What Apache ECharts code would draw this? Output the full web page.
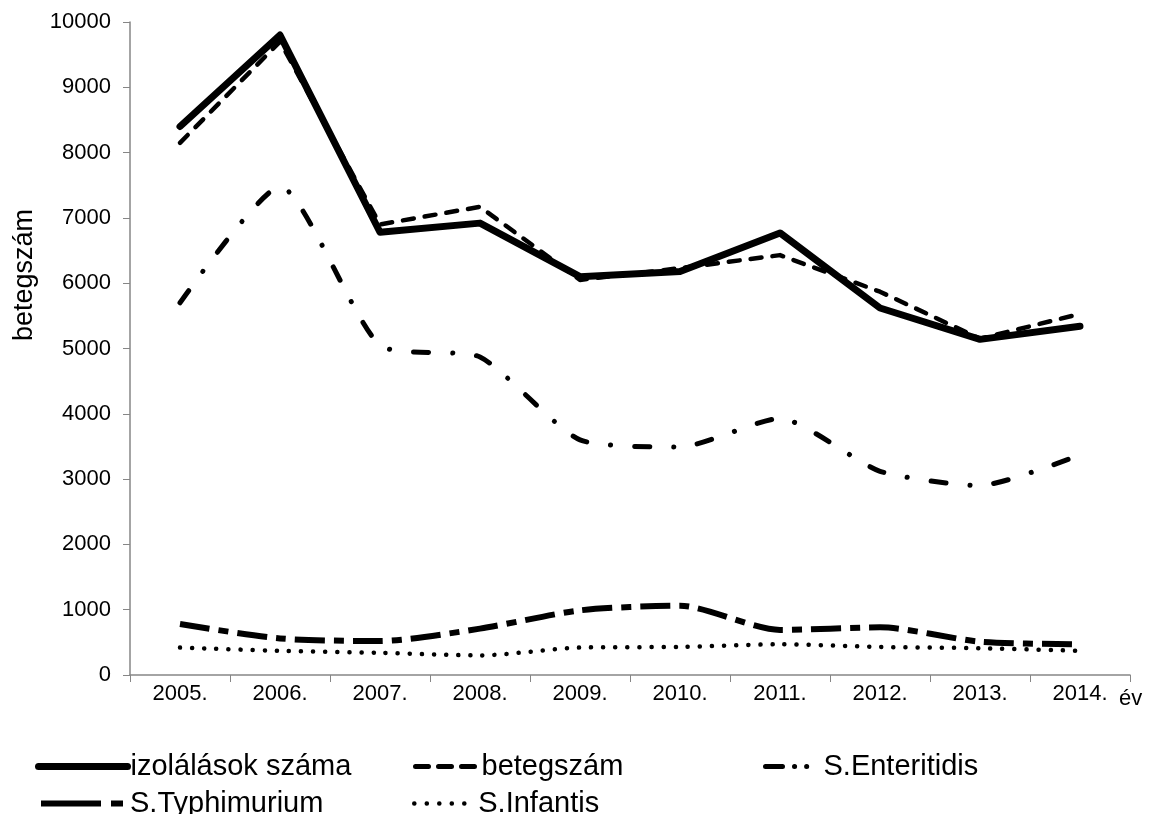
<!DOCTYPE html>
<html>
<head>
<meta charset="utf-8">
<script src="https://cdn.jsdelivr.net/npm/echarts@6/dist/echarts.min.js"></script>
<style>html,body{margin:0;padding:0;background:#fff}#c{width:1153px;height:814px}</style>
</head>
<body>
<div id="c"></div>
<script>
const years = ['2005.','2006.','2007.','2008.','2009.','2010.','2011.','2012.','2013.','2014.'];
const yTicks = [0,1000,2000,3000,4000,5000,6000,7000,8000,9000,10000];
const izolalasok = [8400, 9800, 6780, 6920, 6100, 6180, 6770, 5620, 5140, 5340];
const betegszam = [8150, 9700, 6900, 7170, 6050, 6230, 6430, 5870, 5150, 5530];
const enteritidis = [5700, 7480, 5050, 4870, 3600, 3490, 3930, 3120, 2900, 3370];
const typhimurium = [780, 560, 520, 710, 990, 1060, 690, 730, 510, 470];
const infantis = [420, 370, 340, 300, 420, 430, 470, 430, 410, 370];

const names = ['izolálások száma','betegszám','S.Enteritidis','S.Typhimurium','S.Infantis'];
const axisFont = 'Liberation Sans, Arial, sans-serif';
const legFont = 'Liberation Sans Narrow, Liberation Sans, sans-serif';

const styles = [
  {color:'#000', width:7, type:'solid', cap:'round', join:'round'},
  {color:'#000', width:4.5, type:[11,11], cap:'round', join:'round'},
  {color:'#000', width:5, type:[15,24,0.1,24], cap:'round', join:'round'},
  {color:'#000', width:6, type:[30,9,10,9], cap:'butt', join:'round'},
  {color:'#000', width:4.5, type:[0.1,12], cap:'round', join:'round'}
];
const legendStyles = [
  {color:'#000', width:7, type:'solid', cap:'round'},
  {color:'#000', width:5, type:[13,10], cap:'round', dashOffset:-3},
  {color:'#000', width:5, type:[17,12,0.1,12,0.1,40], cap:'round', dashOffset:-3},
  {color:'#000', width:6, type:[60,10,12,30], cap:'butt'},
  {color:'#000', width:4.5, type:[0.1,12.4], cap:'round', dashOffset:-2}
];

function legendAt(i, left, top, w){
  return {data:[names[i]], left:left, top:top, itemWidth:w, itemHeight:14, itemGap:0,
    itemStyle:{opacity:0},
    lineStyle:legendStyles[i],
    textStyle:{fontFamily:legFont, fontSize:29, color:'#000', padding:[0,0,0,-2]}, selectedMode:false};
}

const chart = echarts.init(document.getElementById('c'), null, {renderer:'canvas'});
chart.setOption({
  animation:false,
  backgroundColor:'#fff',
  color:['#000','#000','#000','#000','#000'],
  grid:{left:130, right:23, top:22, bottom:139},
  xAxis:{type:'category', data:years, boundaryGap:true,
    axisLine:{lineStyle:{color:'#868686', width:1.5}},
    axisTick:{show:true, length:7, lineStyle:{color:'#868686'}},
    axisLabel:{fontFamily:axisFont, fontSize:22, color:'#000', margin:8}},
  yAxis:{type:'value', min:0, max:10000, interval:1000,
    axisLine:{show:true, lineStyle:{color:'#868686', width:1.5}},
    axisTick:{show:true, length:7, lineStyle:{color:'#868686'}},
    splitLine:{show:false},
    axisLabel:{fontFamily:axisFont, fontSize:22, color:'#000', margin:19,
      formatter:v=> yTicks.includes(v) ? String(v) : ''}},
  legend:[
    legendAt(0, 30, 747, 89),
    legendAt(1, 405, 747, 66),
    legendAt(2, 755, 747, 58),
    legendAt(3, 30, 784, 89),
    legendAt(4, 405, 784, 63)
  ],
  graphic:[
    {type:'text', x:11, y:341, rotation:Math.PI/2, style:{text:'betegszám', font:'27px '+axisFont, fill:'#000'}},
    {type:'text', x:1119, y:688, style:{text:'év', font:'22px '+axisFont, fill:'#000'}}
  ],
  series:[
    {name:names[0], type:'line', data:izolalasok, symbol:'none', smooth:false, z:5,
      itemStyle:{color:'#000'}, lineStyle:styles[0]},
    {name:names[1], type:'line', data:betegszam, symbol:'none', smooth:false, z:4,
      itemStyle:{color:'#000'}, lineStyle:styles[1]},
    {name:names[2], type:'line', data:enteritidis, symbol:'none', smooth:0.2,
      itemStyle:{color:'#000'}, lineStyle:styles[2]},
    {name:names[3], type:'line', data:typhimurium, symbol:'none', smooth:0.25,
      itemStyle:{color:'#000'}, lineStyle:styles[3]},
    {name:names[4], type:'line', data:infantis, symbol:'none', smooth:0.25,
      itemStyle:{color:'#000'}, lineStyle:styles[4]}
  ]
});
</script>
</body>
</html>
